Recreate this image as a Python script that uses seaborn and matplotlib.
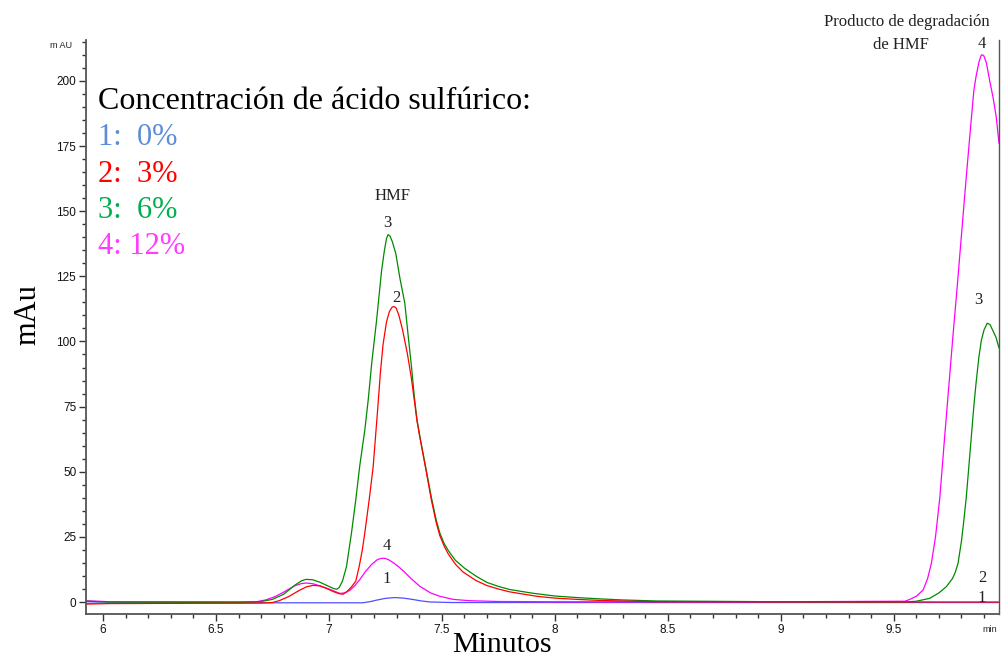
import numpy as np
import pandas as pd
import matplotlib
matplotlib.use("Agg")
import matplotlib.pyplot as plt
from matplotlib.ticker import MultipleLocator
import seaborn as sns

# ---- data (time in min, signal in mAU) ----
t_1 = [5.925, 6.03, 7.15, 7.18, 7.21, 7.25, 7.29, 7.33, 7.37, 7.41, 7.45, 7.55, 9.966]
y_1 = [-0.5, -0.3, -0.3, 0.1, 0.7, 1.4, 1.7, 1.5, 1.0, 0.4, 0.0, -0.2, -0.2]

t_2 = [5.925, 6.03, 6.70, 6.75, 6.78, 6.82, 6.87, 6.90, 6.93, 6.96, 6.99, 7.02, 7.045,
       7.063, 7.08, 7.10, 7.119, 7.134, 7.147, 7.159, 7.178, 7.196, 7.216, 7.228, 7.24,
       7.255, 7.268, 7.28, 7.288, 7.298, 7.31, 7.326, 7.347, 7.365, 7.378, 7.39, 7.403,
       7.429, 7.454, 7.475, 7.491, 7.51, 7.528, 7.56, 7.594, 7.65, 7.70, 7.75, 7.80,
       7.92, 8.00, 8.10, 8.20, 8.45, 9.966]
y_2 = [-0.8, -0.6, -0.4, -0.2, 0.5, 2.0, 4.5, 5.8, 6.4, 6.2, 5.2, 4.0, 3.2,
       3.0, 4.0, 5.8, 8.0, 13.6, 19.5, 26.5, 39.0, 51.9, 74.0, 88.0, 99.0,
       107.5, 111.5, 113.2, 113.4, 112.8, 110.0, 104.5, 95.5, 86.0, 77.5, 69.5, 63.0,
       51.0, 39.0, 30.5, 25.5, 21.5, 18.5, 14.5, 11.5, 8.3, 6.3, 5.0, 3.9,
       2.2, 1.5, 1.0, 0.6, 0.1, 0.0]

t_3 = [5.925, 6.03, 6.60, 6.70, 6.75, 6.80, 6.85, 6.88, 6.90, 6.93, 6.96, 7.00, 7.02,
       7.034, 7.045, 7.06, 7.078, 7.10, 7.119, 7.137, 7.159, 7.174, 7.19, 7.211, 7.233,
       7.245, 7.255, 7.262, 7.27, 7.28, 7.296, 7.315, 7.336, 7.35, 7.366, 7.378, 7.39,
       7.403, 7.429, 7.454, 7.475, 7.491, 7.51, 7.528, 7.56, 7.60, 7.65, 7.70, 7.75,
       7.80, 7.90, 8.00, 8.10, 8.20, 8.30, 8.45, 9.00, 9.55, 9.60, 9.659, 9.70, 9.733,
       9.76, 9.773, 9.785, 9.80, 9.81, 9.821, 9.833, 9.844, 9.855, 9.865, 9.877, 9.888,
       9.90, 9.914, 9.926, 9.94, 9.953, 9.966]
y_3 = [0.3, 0.0, -0.2, 0.2, 1.0, 3.0, 6.5, 8.2, 8.7, 8.5, 7.6, 6.0, 5.2,
       4.9, 5.5, 8.0, 13.6, 26.5, 39.2, 52.5, 66.0, 77.5, 92.0, 108.0, 127.0,
       134.5, 139.5, 141.0, 140.5, 138.5, 133.8, 124.0, 114.7, 103.0, 90.0, 79.0, 70.0,
       63.5, 51.5, 40.0, 31.5, 26.5, 22.5, 19.8, 16.0, 13.0, 10.0, 7.5, 6.0,
       4.8, 3.4, 2.3, 1.7, 1.2, 0.8, 0.4, 0.1, 0.0, 0.3, 1.4, 3.5, 5.9,
       9.0, 11.5, 15.0, 23.5, 31.0, 40.0, 52.5, 64.0, 75.5, 84.5, 94.0, 100.5,
       104.5, 107.0, 106.5, 104.0, 101.5, 97.5]

t_4 = [5.925, 6.03, 6.68, 6.72, 6.76, 6.80, 6.85, 6.88, 6.90, 6.93, 6.96, 7.00, 7.049,
       7.07, 7.093, 7.115, 7.137, 7.16, 7.19, 7.215, 7.23, 7.24, 7.25, 7.265, 7.29,
       7.31, 7.329, 7.36, 7.403, 7.45, 7.491, 7.55, 7.624, 7.75, 8.00, 9.00, 9.55,
       9.571, 9.60, 9.63, 9.65, 9.667, 9.685, 9.704, 9.726, 9.745, 9.763, 9.781, 9.799,
       9.821, 9.844, 9.855, 9.865, 9.878, 9.888, 9.898, 9.91, 9.925, 9.94, 9.954, 9.966]
y_4 = [0.5, 0.1, 0.1, 0.8, 2.0, 3.8, 6.3, 7.1, 7.3, 7.0, 6.2, 5.0, 3.3,
       3.5, 4.5, 6.3, 8.6, 11.5, 14.5, 16.3, 16.7, 16.8, 16.7, 16.2, 14.8,
       13.4, 12.0, 9.3, 6.0, 3.5, 2.2, 1.0, 0.5, 0.2, 0.1, 0.1, 0.3,
       1.0, 2.2, 4.6, 9.0, 15.0, 25.0, 40.0, 64.0, 84.0, 103.0, 121.0, 140.0,
       163.0, 186.0, 196.5, 202.0, 207.5, 210.0, 209.8, 207.0, 200.0, 193.5, 186.0, 176.0]

series_names = ["1", "2", "3", "4"]
line_colors = {"1": "#4F4FFF", "2": "#FF0000", "3": "#008A00", "4": "#FF00FF"}
legend_labels = ["1:  0%", "2:  3%", "3:  6%", "4: 12%"]
legend_colors = ["#5B8ED6", "#FF0000", "#00B050", "#FF3DFF"]
x_ticks = [6, 6.5, 7, 7.5, 8, 8.5, 9, 9.5]
x_ticklabels = ["6", "6.5", "7", "7.5", "8", "8.5", "9", "9.5"]
y_ticks = [0, 25, 50, 75, 100, 125, 150, 175, 200]

frames = []
for name, t, y in zip(series_names, [t_1, t_2, t_3, t_4], [y_1, y_2, y_3, y_4]):
    assert len(t) == len(y), name
    frames.append(pd.DataFrame({"t": t, "mAU": y, "serie": name}))
df = pd.concat(frames, ignore_index=True)

sns.set_style("ticks")
plt.rcParams["font.family"] = ["Liberation Sans", "DejaVu Sans"]

fig = plt.figure(figsize=(10.01, 6.58), dpi=100)
ax = fig.add_axes([86 / 1001, 1 - 614 / 658, (999 - 86) / 1001, (614 - 40) / 658])

for name in ["1", "4", "3", "2"]:
    sub = df[df["serie"] == name]
    sns.lineplot(data=sub, x="t", y="mAU", color=line_colors[name], estimator=None,
                 sort=False, linewidth=0.9, ax=ax, legend=False)

ax.set_xlim(5.925, 9.966)
ax.set_ylim(-4.6, 215.7)
ax.set_xticks(x_ticks)
ax.set_xticklabels(x_ticklabels)
ax.set_yticks(y_ticks)
ax.xaxis.set_minor_locator(MultipleLocator(0.1))
ax.yaxis.set_minor_locator(MultipleLocator(5))
ax.tick_params(which="major", direction="out", length=5, width=1, colors="#333333",
               labelsize=8.5, labelcolor="#111111", pad=2)
ax.tick_params(which="minor", direction="out", length=3, width=1, colors="#333333")
ax.set_xlabel("")
ax.set_ylabel("")
for s in ["left", "bottom", "right"]:
    ax.spines[s].set_visible(True)
    ax.spines[s].set_color("#555555")
    ax.spines[s].set_linewidth(1.3)
ax.spines["top"].set_visible(False)
ax.spines["right"].set_linewidth(1.0)

serif = ["Liberation Serif", "DejaVu Serif"]

# axis unit labels
fig.text(61 / 1001, 1 - 46 / 658, "m AU", fontsize=6.5, ha="center", va="center",
         color="#222222")
fig.text(990 / 1001, 1 - 630 / 658, "min", fontsize=6.5, ha="center", va="center",
         color="#222222")

# big axis titles
fig.text(28 / 1001, 1 - 315 / 658, "mAu", fontsize=22, rotation=90, ha="center",
         va="center", family=serif, color="black")
fig.text(502 / 1001, 1 - 652 / 658, "Minutos", fontsize=21.5, ha="center",
         va="baseline", family=serif, color="black")

# legend-like text block
fig.text(98 / 1001, 1 - 109 / 658, "Concentración de ácido sulfúrico:", fontsize=23,
         ha="left", va="baseline", family=serif, color="black")
for i, (lab, col) in enumerate(zip(legend_labels, legend_colors)):
    fig.text(98 / 1001, 1 - (145 + 36.5 * i) / 658, lab, fontsize=22, ha="left",
             va="baseline", family=serif, color=col)

# peak annotations
ann_kw = dict(fontsize=12, ha="center", va="center", family=serif, color="#222222")
fig.text(393 / 1001, 1 - 196 / 658, "HMF", **ann_kw)
fig.text(387 / 1001, 1 - 223 / 658, "3", **ann_kw)
fig.text(396 / 1001, 1 - 298 / 658, "2", **ann_kw)
fig.text(387 / 1001, 1 - 546 / 658, "4", **ann_kw)
fig.text(387 / 1001, 1 - 579 / 658, "1", **ann_kw)
fig.text(982 / 1001, 1 - 44 / 658, "4", **ann_kw)
fig.text(978 / 1001, 1 - 300 / 658, "3", **ann_kw)
fig.text(982 / 1001, 1 - 578 / 658, "2", **ann_kw)
fig.text(982 / 1001, 1 - 598 / 658, "1", **ann_kw)
fig.text(990 / 1001, 1 - 22 / 658, "Producto de degradación", fontsize=12, ha="right",
         va="center", family=serif, color="#222222")
fig.text(929 / 1001, 1 - 45 / 658, "de HMF", fontsize=12, ha="right",
         va="center", family=serif, color="#222222")

fig.savefig("out.png", dpi=100)
